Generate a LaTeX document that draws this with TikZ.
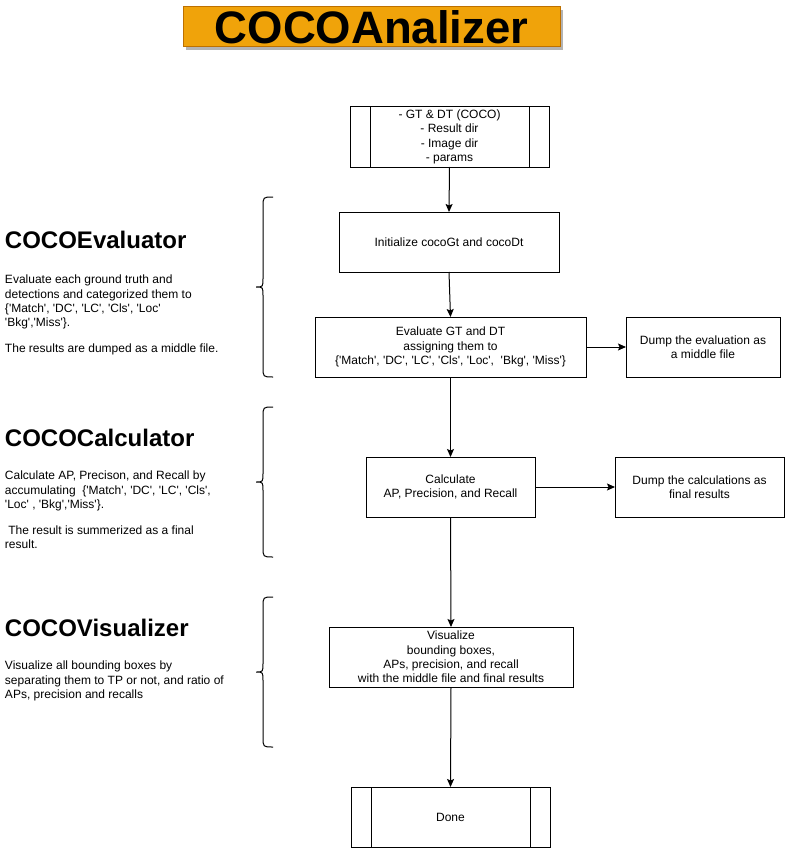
\documentclass[tikz,border=0pt]{standalone}
\usepackage{fontspec}
\setmainfont{Liberation Sans}
\usetikzlibrary{arrows.meta,shadows}
\newcommand\qt[1]{\textquotesingle#1\textquotesingle}
\definecolor{titleorange}{HTML}{F0A30A}
\definecolor{titlestroke}{HTML}{BD7000}
\definecolor{shadowgray}{HTML}{B3B3B3}
\begin{document}
\begin{tikzpicture}[x=1pt,y=-1pt,
  every node/.style={inner sep=0pt, outer sep=0pt},
  body/.style={font=\fontsize{12}{14.4}\selectfont},
  box/.style={draw, line width=1pt, body, align=center, minimum height=60pt},
  sidehead/.style={font=\fontsize{24}{28}\selectfont\bfseries, anchor=base west},
  sidetext/.style={body, align=left, anchor=north west},
  arr/.style={line width=1pt, -{Stealth[length=8pt,width=7pt,inset=1.5pt]}},
  bracestyle/.style={line width=1pt}
]
\useasboundingbox (0,0) rectangle (785,848);

% title
\node[draw=titlestroke, fill=titleorange, line width=1pt, minimum width=377pt, minimum height=40pt,
  font=\fontsize{45.5}{50}\selectfont\bfseries,
  drop shadow={shadow xshift=3pt, shadow yshift=-3pt, fill=shadowgray, opacity=1}]
  (title) at (371.5,27) {COCOAnalizer};

% flowchart boxes
\node[box, minimum width=199pt] (input) at (449.5,137) {- GT \& DT (COCO)\\- Result dir\\- Image dir\\- params};
\draw[line width=1pt] ([xshift=20pt]input.north west) -- ([xshift=20pt]input.south west);
\draw[line width=1pt] ([xshift=-20pt]input.north east) -- ([xshift=-20pt]input.south east);

\node[box, minimum width=220pt] (init) at (449,242) {Initialize cocoGt and cocoDt};

\node[box, minimum width=271pt] (eval) at (450.5,347) {Evaluate GT and DT\\assigning them to\\\{\qt{Match}, \qt{DC}, \qt{LC}, \qt{Cls}, \qt{Loc}, \ \qt{Bkg}, \qt{Miss}\}};

\node[box, minimum width=154pt] (dumpeval) at (703,347) {Dump the evaluation as\\a middle file};

\node[box, minimum width=169pt] (calc) at (450.5,487) {Calculate\\AP, Precision, and Recall};

\node[box, minimum width=169pt] (dumpcalc) at (699.5,487) {Dump the calculations as\\final results};

\node[box, minimum width=244pt] (vis) at (451,657) {Visualize\\bounding boxes,\\APs, precision, and recall\\with the middle file and final results};

\node[box, minimum width=199pt] (done) at (450.5,817) {Done};
\draw[line width=1pt] ([xshift=20pt]done.north west) -- ([xshift=20pt]done.south west);
\draw[line width=1pt] ([xshift=-20pt]done.north east) -- ([xshift=-20pt]done.south east);

% connectors
\draw[arr] (input.south) -- (init.north);
\draw[arr] (init.south) -- (eval.north);
\draw[arr] (eval.south) -- (calc.north);
\draw[arr] (calc.south) -- (vis.north);
\draw[arr] (vis.south) -- (done.north);
\draw[arr] (eval.east) -- (dumpeval.west);
\draw[arr] (calc.east) -- (dumpcalc.west);

% side descriptions
\node[sidehead] (hEval) at (5,248) {COCOEvaluator};
\node[sidetext] (tEval) at (5,275) {Evaluate each ground truth and\\detections and categorized them to\\\{\qt{Match}, \qt{DC}, \qt{LC}, \qt{Cls}, \qt{Loc}\\\qt{Bkg},\qt{Miss}\}.\\[11.6pt]The results are dumped as a middle file.};

\node[sidehead] (hCalc) at (5,446) {COCOCalculator};
\node[sidetext] (tCalc) at (5,471) {Calculate AP, Precison, and Recall by\\accumulating \ \{\qt{Match}, \qt{DC}, \qt{LC}, \qt{Cls},\\\qt{Loc} , \qt{Bkg},\qt{Miss}\}.\\[11.6pt]\ The result is summerized as a final\\result.};

\node[sidehead] (hVis) at (5,636) {COCOVisualizer};
\node[sidetext] (tVis) at (5,661) {Visualize all bounding boxes by\\separating them to TP or not, and ratio of\\APs, precision and recalls};

% braces
\foreach \t/\m/\b in {197/287/377, 407/482/557, 597/672/747}{
  \draw[bracestyle] (273,\t) .. controls (263,\t) .. (263,{\t+10}) -- (263,{\m-9})
    .. controls (263,\m) .. (256,\m) .. controls (263,\m) .. (263,{\m+9})
    -- (263,{\b-10}) .. controls (263,\b) .. (273,\b);
}
\end{tikzpicture}
\end{document}
